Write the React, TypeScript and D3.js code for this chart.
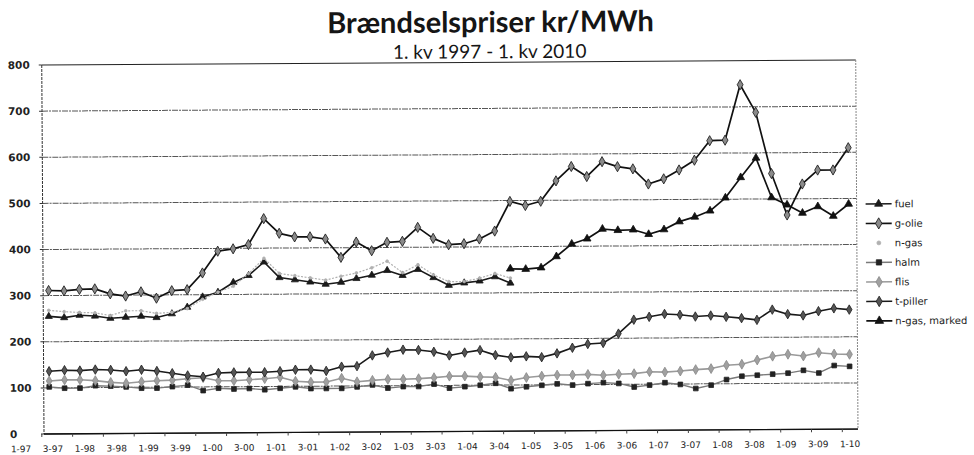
import React from "react";
import * as d3 from "d3";

const quarters = [
  "1-97","2-97","3-97","4-97","1-98","2-98","3-98","4-98","1-99","2-99","3-99","4-99",
  "1-00","2-00","3-00","4-00","1-01","2-01","3-01","4-01","1-02","2-02","3-02","4-02",
  "1-03","2-03","3-03","4-03","1-04","2-04","3-04","4-04","1-05","2-05","3-05","4-05",
  "1-06","2-06","3-06","4-06","1-07","2-07","3-07","4-07","1-08","2-08","3-08","4-08",
  "1-09","2-09","3-09","4-09","1-10"
];

const xTickLabels = [
  "1-97","3-97","1-98","3-98","1-99","3-99","1-00","3-00","1-01","3-01","1-02","3-02","1-03","3-03",
  "1-04","3-04","1-05","3-05","1-06","3-06","1-07","3-07","1-08","3-08","1-09","3-09","1-10"
];

const yTicks = [0, 100, 200, 300, 400, 500, 600, 700, 800];

const fuel = [255, 252, 257, 255, 250, 252, 254, 251, 259, 273, 295, 305, 326, 341, 370, 336, 331, 326, 321, 325, 333, 340, 350, 339, 352, 334, 317, 322, 326, 335, 321,
  null, null, null, null, null, null, null, null, null, null, null, null, null, null, null, null, null, null, null, null, null, null];

const gOlie = [311, 310, 313, 314, 303, 298, 307, 293, 309, 311, 347, 394, 399, 408, 464, 432, 424, 424, 419, 379, 412, 393, 411, 413, 443, 419, 405, 407, 417, 434,
  498, 489, 498, 542, 573, 551, 583, 572, 567, 534, 545, 564, 585, 627, 628, 748, 688, 555, 465, 532, 562, 562, 610];

const nGas = [268, 265, 263, 262, 256, 266, 266, 260, 262, 270, 290, 305, 318, 345, 378, 345, 340, 335, 330, 338, 345, 356, 370, 345, 362, 340, 325, 325, 332, 342, 332,
  null, null, null, null, null, null, null, null, null, null, null, null, null, null, null, null, null, null, null, null, null, null];

const halm = [102, 99, 99, 104, 103, 101, 98, 98, 101, 104, 92, 97, 95, 96, 93, 96, 99, 95,
  95, 95, 98, 102, 95, 98, 98, 103, 94, 97, 100, 104, 92, 96, 99, 102, 99, 102,
  104, 102, 94, 98, 103, 99, 90, 97, 109, 116, 118, 120, 122, 128, 122, 138, 136];

const flis = [115, 117, 117, 115, 111, 109, 112, 114, 115, 118, 120, 113, 113, 115, 117, 120, 111, 109,
  109, 117, 109, 112, 114, 114, 115, 117, 120, 120, 118, 117, 110, 116, 119, 121, 121, 122,
  120, 122, 123, 127, 126, 128, 131, 133, 140, 142, 151, 159, 163, 159, 166, 163, 162];

const tPiller = [136, 138, 137, 139, 138, 135, 138, 135, 130, 125, 122, 130, 131, 131, 131, 133, 136, 136,
  133, 142, 143, 166, 172, 178, 177, 173, 165, 171, 176, 165, 160, 162, 160, 168, 180, 188,
  190, 210, 240, 246, 252, 250, 246, 248, 245, 242, 238, 260, 250, 247, 256, 262, 259];

const nGasMarked = [null, null, null, null, null, null, null, null, null, null, null, null, null, null, null,
  null, null, null, null, null, null, null, null, null, null, null, null, null, null, null,
  352, 351, 354, 378, 405, 416, 437, 434, 435, 425, 435, 452, 462, 475, 503, 547, 589, 503, 487, 469, 483, 462, 488];

const seriesNames = ["fuel", "g-olie", "n-gas", "halm", "flis", "t-piller", "n-gas, marked"];
const seriesData = [fuel, gOlie, nGas, halm, flis, tPiller, nGasMarked];

type Style = { stroke: string; width: number; symbol: d3.SymbolType; size: number; fill: string; mStroke: string; dash?: string };
const styles: Style[] = [
  { stroke: "#1a1a1a", width: 1.6, symbol: d3.symbolTriangle, size: 22, fill: "#1a1a1a", mStroke: "#1a1a1a" },
  { stroke: "#111", width: 1.7, symbol: d3.symbolDiamond, size: 30, fill: "#8a8a8a", mStroke: "#111" },
  { stroke: "#b0b0b0", width: 1.2, symbol: d3.symbolCircle, size: 6, fill: "#b0b0b0", mStroke: "#b0b0b0", dash: "2,1.5" },
  { stroke: "#7a7a7a", width: 1.4, symbol: d3.symbolSquare, size: 22, fill: "#222", mStroke: "#222" },
  { stroke: "#9a9a9a", width: 1.6, symbol: d3.symbolDiamond, size: 28, fill: "#a0a0a0", mStroke: "#888" },
  { stroke: "#1a1a1a", width: 1.6, symbol: d3.symbolDiamond, size: 26, fill: "#555", mStroke: "#1a1a1a" },
  { stroke: "#111", width: 1.7, symbol: d3.symbolTriangle, size: 26, fill: "#111", mStroke: "#111" },
];

export default function App() {
  const W = 974, H = 455;
  const left = 44, right = 858, top = 65, bottom = 434;
  const x = d3.scalePoint<string>().domain(quarters).range([49.5, 850]);
  const xLab = d3.scalePoint<string>().domain(xTickLabels).range([21, 850]);
  const y = d3.scaleLinear().domain([0, 800]).range([bottom, top]);
  const step = x.step();

  const line = d3.line<number | null>()
    .defined((d) => d != null)
    .x((_, i) => x(quarters[i]) as number)
    .y((d) => y(d as number));

  const legendY = d3.scalePoint<string>().domain(seriesNames).range([209, 326]);

  return (
    <svg width={W} height={H} style={{ position: "absolute", left: 0, top: 0, background: "#fff" }}
      fontFamily="DejaVu Sans, sans-serif">
      <g transform="rotate(-0.35 44 434)">
        <text x={493} y={35} textAnchor="middle" fontFamily="Lato, sans-serif" fontWeight={700}
          fontSize={29} fill="#151515">Brændselspriser kr/MWh</text>
        <text x={492} y={61} textAnchor="middle" fontFamily="Lato, sans-serif" fontSize={19}
          fill="#151515">1. kv 1997 - 1. kv 2010</text>

        {yTicks.map((t) => (
          <g key={t}>
            <line x1={left} x2={right} y1={y(t)} y2={y(t)} stroke={t === 800 || t === 0 ? "#222" : "#555"}
              strokeWidth={1} strokeDasharray={t === 800 || t === 0 ? undefined : "6,1,2,1"} />
            <line x1={left - 3} x2={left} y1={y(t)} y2={y(t)} stroke="#333" />
            <text x={10} y={y(t)} dy="0.35em" fontSize={10.5} fill="#222" fontWeight={700}>{t}</text>
          </g>
        ))}

        <line x1={left} x2={left} y1={top} y2={bottom} stroke="#333" strokeWidth={1} strokeDasharray="3,1" />
        <line x1={right} x2={right} y1={top} y2={bottom} stroke="#888" strokeWidth={1} strokeDasharray="2,1" />
        <line x1={left} x2={right} y1={bottom} y2={bottom} stroke="#111" strokeWidth={1.3} />
        {quarters.map((q, i) => (i % 2 === 0 ? (
          <line key={q} x1={(x(q) as number) - step / 2} x2={(x(q) as number) - step / 2}
            y1={bottom} y2={bottom + 3} stroke="#444" />
        ) : null))}

        {xTickLabels.map((l) => (
          <text key={l} x={xLab(l)} y={452} textAnchor="middle" fontSize={9} fill="#222">{l}</text>
        ))}

        {seriesData.map((data, si) => {
          const s = styles[si];
          const sym = d3.symbol().type(s.symbol).size(s.size)();
          return (
            <g key={seriesNames[si]}>
              <path d={line(data) || ""} fill="none" stroke={s.stroke} strokeWidth={s.width}
                strokeDasharray={s.dash} strokeLinejoin="round" />
              {data.map((d, i) => d == null ? null : (
                <path key={i} d={sym || ""} transform={`translate(${x(quarters[i])},${y(d)})`}
                  fill={s.fill} stroke={s.mStroke} strokeWidth={0.8} />
              ))}
            </g>
          );
        })}

        {seriesNames.map((n, si) => {
          const s = styles[si];
          const ly = legendY(n) as number;
          const sym = d3.symbol().type(s.symbol).size(s.size + 6)();
          return (
            <g key={n}>
              {si === 2 ? null : (
                <line x1={867} x2={893} y1={ly} y2={ly} stroke={s.stroke} strokeWidth={s.width} />
              )}
              <path d={sym || ""} transform={`translate(880,${ly})`} fill={s.fill} stroke={s.mStroke} strokeWidth={0.8} />
              <text x={896} y={ly} dy="0.35em" fontSize={10} fill="#222">{n}</text>
            </g>
          );
        })}
      </g>
    </svg>
  );
}
